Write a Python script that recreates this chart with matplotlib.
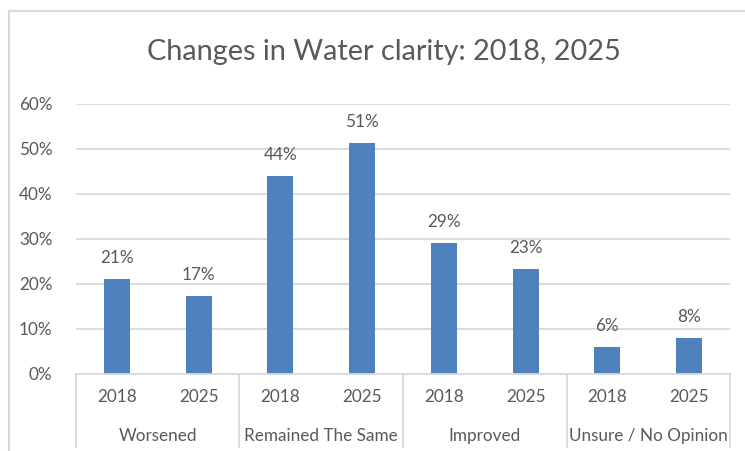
import matplotlib
matplotlib.use("Agg")
import matplotlib.pyplot as plt
from matplotlib.lines import Line2D
import matplotlib.transforms as mtransforms

# ---- data ----
title = "Changes in Water clarity: 2018, 2025"
categories = ["Worsened", "Remained The Same", "Improved", "Unsure / No Opinion"]
years = ["2018", "2025"]
values = [21.0, 17.4, 43.9, 51.3, 29.0, 23.3, 5.9, 7.9]  # percent, ordered by category then year
labels = ["21%", "17%", "44%", "51%", "29%", "23%", "6%", "8%"]
yticks = [0, 10, 20, 30, 40, 50, 60]

W, H, DPI = 745, 451, 100
BAR = "#4F81BD"
TXT = "#595959"
GRID = "#D9D9D9"
FONT = "Lato"

fig = plt.figure(figsize=(W / DPI, H / DPI), dpi=DPI)
fig.patch.set_facecolor("white")

# chart border (cut off at right/bottom like the reference)
fig.add_artist(Line2D([9 / W, 9 / W], [0, 1 - 11 / H], color=GRID, lw=1.5))
fig.add_artist(Line2D([9 / W, 1], [1 - 11 / H, 1 - 11 / H], color=GRID, lw=1.5))

left, right, top, bottom = 76, 730, 103.5, 374
ax = fig.add_axes([left / W, (H - bottom) / H, (right - left) / W, (bottom - top) / H])
n = len(values)
x = list(range(n))
ax.bar(x, values, width=0.32, color=BAR, zorder=3)
ax.set_xlim(-0.5, n - 0.5)
ax.set_ylim(0, 60)
for s in ax.spines.values():
    s.set_visible(False)
ax.set_yticks(yticks)
ax.set_yticklabels([f"{t}%" for t in yticks])
ax.yaxis.grid(True, color=GRID, lw=1.3, zorder=0)
ax.tick_params(axis="y", length=0, pad=17, labelcolor=TXT, labelsize=12.3)
for lab in ax.get_yticklabels():
    lab.set_fontfamily(FONT)

ax.set_xticks(x)
ax.set_xticklabels([years[i % 2] for i in x])
ax.tick_params(axis="x", length=0, pad=11, labelcolor=TXT, labelsize=12.3)
for lab in ax.get_xticklabels():
    lab.set_fontfamily(FONT)

# axis line
ax.axhline(0, color=GRID, lw=1.3, zorder=4, clip_on=False)

# group separators
ah = bottom - top
ybot = -(447 - bottom) / ah
trans = mtransforms.blended_transform_factory(ax.transData, ax.transAxes)
for g in range(len(categories) + 1):
    xs = g * 2 - 0.5
    ax.add_artist(Line2D([xs, xs], [0, ybot], transform=trans, color=GRID, lw=1.3, clip_on=False))
for g, c in enumerate(categories):
    ax.text(g * 2 + 0.5, -(436 - bottom) / ah, c, transform=trans, ha="center", va="center",
            color=TXT, fontsize=12.3, fontfamily=FONT)

# data labels
for xi, v, l in zip(x, values, labels):
    ax.annotate(l, (xi, v), xytext=(0, 21), textcoords="offset pixels", ha="center", va="center",
                color=TXT, fontsize=12.3, fontfamily=FONT)

fig.text(384 / W, 1 - 52 / H, title, ha="center", va="center", color=TXT, fontsize=20.8, fontfamily=FONT)

fig.savefig("out.png", dpi=DPI)
